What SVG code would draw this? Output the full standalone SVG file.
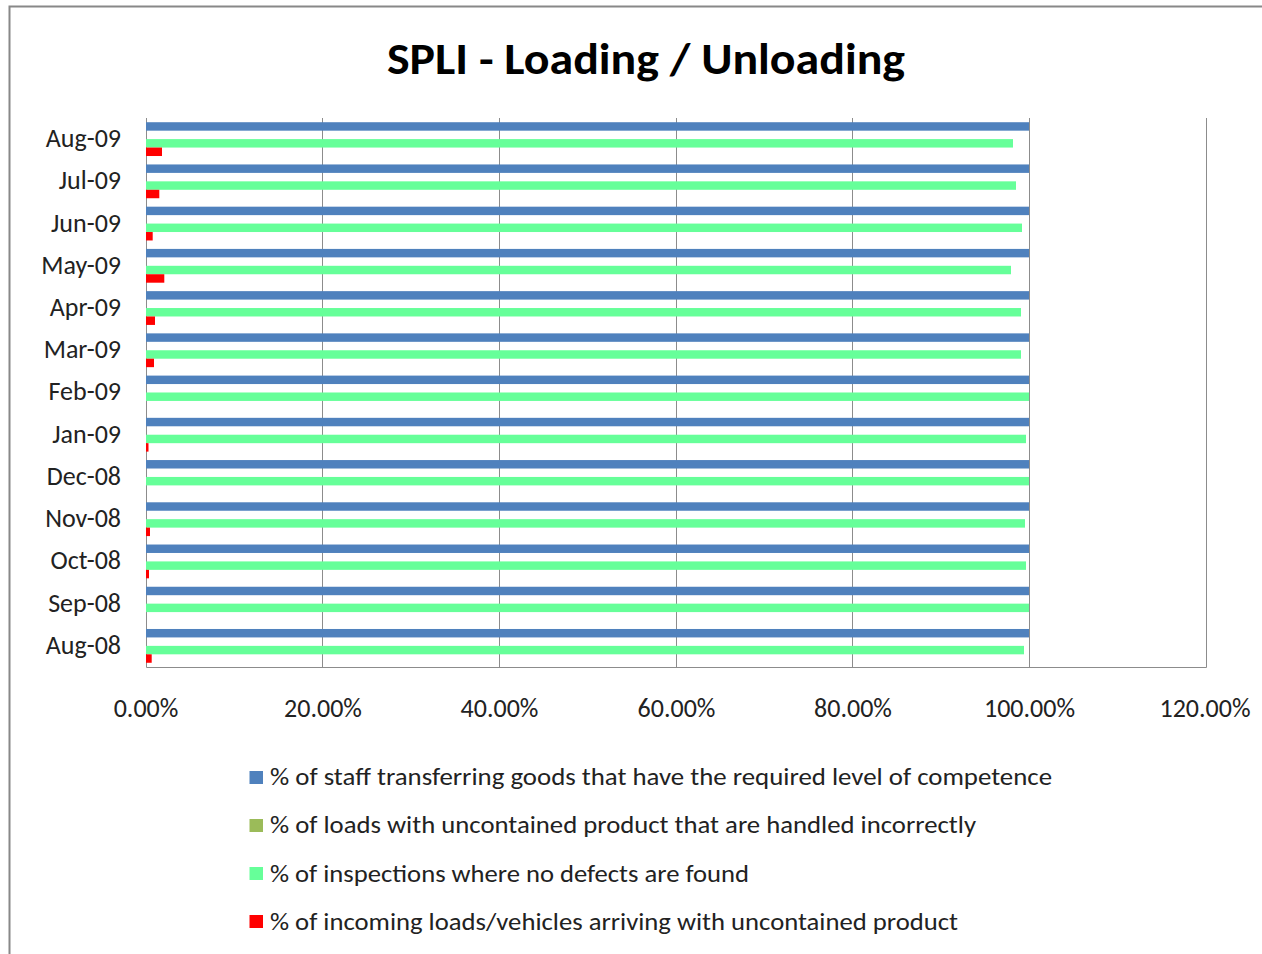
<svg xmlns="http://www.w3.org/2000/svg" width="1262" height="954" viewBox="0 0 1262 954">
<style>
text{font-family:Carlito,Lato,"Liberation Sans",sans-serif;fill:#222}
.t{font-size:44px;font-weight:bold;fill:#000}
.yl{font-size:26px;text-anchor:end}
.xl{font-size:26px;text-anchor:middle}
.lg{font-size:24px}
.grid{stroke:#8c8c8c;stroke-width:1;fill:none}
.b{fill:#4F81BD}
.o{fill:#9BBB59}
.g{fill:#66FF99}
.r{fill:#FF0000}
</style>
<rect x="0" y="0" width="1262" height="954" fill="#fff"/>
<path d="M9.5 958 V6.5 H1266" fill="none" stroke="#888" stroke-width="2"/>
<g id="title"><text class="t" x="646" y="73.5" text-anchor="middle" textLength="518" lengthAdjust="spacingAndGlyphs">SPLI - Loading / Unloading</text></g>
<g id="axes">
<path class="grid" d="M322.5 118V667M499.5 118V667M676.5 118V667M852.5 118V667M1029.5 118V667"/>
<path class="grid" d="M146.5 118V667.5H1206.5V118"/>
</g>
<g id="bars">
<g id="cat-Aug-09"><rect class="b" x="146" y="122.22" width="883" height="8.45"/><rect class="g" x="146" y="139.11" width="867" height="8.45"/><rect class="r" x="146" y="147.56" width="16" height="8.45"/></g>
<g id="cat-Jul-09"><rect class="b" x="146" y="164.45" width="883" height="8.45"/><rect class="g" x="146" y="181.34" width="870" height="8.45"/><rect class="r" x="146" y="189.79" width="13.3" height="8.45"/></g>
<g id="cat-Jun-09"><rect class="b" x="146" y="206.68" width="883" height="8.45"/><rect class="g" x="146" y="223.57" width="876" height="8.45"/><rect class="r" x="146" y="232.02" width="6.7" height="8.45"/></g>
<g id="cat-May-09"><rect class="b" x="146" y="248.91" width="883" height="8.45"/><rect class="g" x="146" y="265.80" width="865" height="8.45"/><rect class="r" x="146" y="274.25" width="18.3" height="8.45"/></g>
<g id="cat-Apr-09"><rect class="b" x="146" y="291.14" width="883" height="8.45"/><rect class="g" x="146" y="308.03" width="875" height="8.45"/><rect class="r" x="146" y="316.48" width="9" height="8.45"/></g>
<g id="cat-Mar-09"><rect class="b" x="146" y="333.37" width="883" height="8.45"/><rect class="g" x="146" y="350.26" width="875" height="8.45"/><rect class="r" x="146" y="358.71" width="8" height="8.45"/></g>
<g id="cat-Feb-09"><rect class="b" x="146" y="375.60" width="883" height="8.45"/><rect class="g" x="146" y="392.49" width="883" height="8.45"/></g>
<g id="cat-Jan-09"><rect class="b" x="146" y="417.83" width="883" height="8.45"/><rect class="g" x="146" y="434.72" width="880" height="8.45"/><rect class="r" x="146" y="443.17" width="2.5" height="8.45"/></g>
<g id="cat-Dec-08"><rect class="b" x="146" y="460.06" width="883" height="8.45"/><rect class="g" x="146" y="476.95" width="883" height="8.45"/></g>
<g id="cat-Nov-08"><rect class="b" x="146" y="502.29" width="883" height="8.45"/><rect class="g" x="146" y="519.18" width="879" height="8.45"/><rect class="r" x="146" y="527.63" width="4" height="8.45"/></g>
<g id="cat-Oct-08"><rect class="b" x="146" y="544.52" width="883" height="8.45"/><rect class="g" x="146" y="561.41" width="880" height="8.45"/><rect class="r" x="146" y="569.86" width="3" height="8.45"/></g>
<g id="cat-Sep-08"><rect class="b" x="146" y="586.75" width="883" height="8.45"/><rect class="g" x="146" y="603.64" width="883" height="8.45"/></g>
<g id="cat-Aug-08"><rect class="b" x="146" y="628.98" width="883" height="8.45"/><rect class="g" x="146" y="645.87" width="878" height="8.45"/><rect class="r" x="146" y="654.32" width="5.7" height="8.45"/></g>
</g>
<g id="y-labels">
<text class="yl" x="121" y="147">Aug-09</text>
<text class="yl" x="121" y="189.2">Jul-09</text>
<text class="yl" x="121" y="231.5">Jun-09</text>
<text class="yl" x="121" y="273.7">May-09</text>
<text class="yl" x="121" y="315.9">Apr-09</text>
<text class="yl" x="121" y="358.2">Mar-09</text>
<text class="yl" x="121" y="400.4">Feb-09</text>
<text class="yl" x="121" y="442.6">Jan-09</text>
<text class="yl" x="121" y="484.8">Dec-08</text>
<text class="yl" x="121" y="527.1">Nov-08</text>
<text class="yl" x="121" y="569.3">Oct-08</text>
<text class="yl" x="121" y="611.5">Sep-08</text>
<text class="yl" x="121" y="653.8">Aug-08</text>
</g>
<g id="x-labels">
<text class="xl" x="146" y="717">0.00%</text>
<text class="xl" x="323" y="717">20.00%</text>
<text class="xl" x="499.5" y="717">40.00%</text>
<text class="xl" x="676.5" y="717">60.00%</text>
<text class="xl" x="853" y="717">80.00%</text>
<text class="xl" x="1029.5" y="717">100.00%</text>
<text class="xl" x="1205" y="717">120.00%</text>
</g>
<g id="legend">
<rect class="b" x="249.5" y="771" width="13.5" height="13"/>
<text class="lg" x="270" y="785" textLength="782" lengthAdjust="spacingAndGlyphs">% of staff transferring goods that have the required level of competence</text>
<rect class="o" x="249.5" y="819" width="13.5" height="13"/>
<text class="lg" x="270" y="833" textLength="706" lengthAdjust="spacingAndGlyphs">% of loads with uncontained product that are handled incorrectly</text>
<rect class="g" x="249.5" y="867" width="13.5" height="13"/>
<text class="lg" x="270" y="881.5" textLength="479" lengthAdjust="spacingAndGlyphs">% of inspections where no defects are found</text>
<rect class="r" x="249.5" y="915" width="13.5" height="13"/>
<text class="lg" x="270" y="929.5" textLength="688" lengthAdjust="spacingAndGlyphs">% of incoming loads/vehicles arriving with uncontained product</text>
</g>
</svg>
